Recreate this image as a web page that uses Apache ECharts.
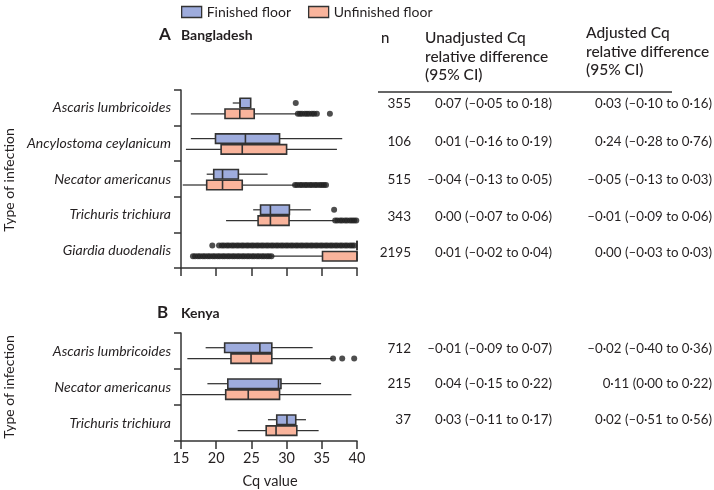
<!DOCTYPE html>
<html>
<head>
<meta charset="utf-8">
<script src="https://cdn.jsdelivr.net/npm/echarts@6/dist/echarts.min.js"></script>
<style>html,body{margin:0;padding:0;background:#fff}#c{width:714px;height:490px}</style>
</head>
<body>
<div id="c"></div>
<script>
// ---------- data ----------
const bdCategories = ['Ascaris lumbricoides', 'Ancylostoma ceylanicum', 'Necator americanus', 'Trichuris trichiura', 'Giardia duodenalis'];
const keCategories = ['Ascaris lumbricoides', 'Necator americanus', 'Trichuris trichiura'];
// [min, q1, median, q3, max]
const bdFinished = [
  [22.35, 23.4, 23.4, 24.9, 24.9],
  [16.4, 19.9, 24.15, 29.0, 37.9],
  [18.65, 19.65, 20.9, 23.15, 27.3],
  [25.25, 26.3, 27.7, 30.4, 33.45],
  [40.0, 40.0, 40.0, 40.0, 40.0]
];
const bdUnfinished = [
  [16.4, 21.25, 23.35, 25.4, 31.45],
  [15.7, 20.7, 23.7, 30.0, 37.15],
  [15.25, 18.65, 20.9, 23.7, 31.1],
  [21.4, 25.95, 27.7, 30.35, 36.75],
  [27.9, 35.1, 40.0, 40.0, 40.0]
];
const keFinished = [
  [18.5, 21.2, 26.2, 27.9, 33.7],
  [18.75, 21.65, 28.85, 29.2, 34.9],
  [27.35, 28.6, 30.05, 31.3, 32.75]
];
const keUnfinished = [
  [15.9, 22.1, 24.95, 27.9, 36.5],
  [15.1, 21.35, 24.55, 29.0, 39.2],
  [23.05, 27.1, 28.5, 31.45, 34.55]
];
// outliers: [category index, Cq value]
const bdFinishedOutliers = [
  [0, 31.3], [3, 36.75],
  [4, 19.45], [4, 20.4], [4, 20.8], [4, 21.1], [4, 21.5], [4, 21.8], [4, 22.2], [4, 22.5], [4, 22.9], [4, 23.2],
  [4, 23.6], [4, 23.9], [4, 24.3], [4, 24.6], [4, 25.0], [4, 25.3], [4, 25.7], [4, 26.0], [4, 26.4], [4, 26.7],
  [4, 27.1], [4, 27.4], [4, 27.8], [4, 28.1], [4, 28.5], [4, 28.8], [4, 29.2], [4, 29.5], [4, 29.9], [4, 30.2],
  [4, 30.6], [4, 30.9], [4, 31.3], [4, 31.6], [4, 32.0], [4, 32.3], [4, 32.7], [4, 33.0], [4, 33.4], [4, 33.7],
  [4, 34.1], [4, 34.4], [4, 34.8], [4, 35.1], [4, 35.5], [4, 35.8], [4, 36.2], [4, 36.5], [4, 36.9], [4, 37.2],
  [4, 37.6], [4, 37.9], [4, 38.3], [4, 38.6], [4, 39.0], [4, 39.3], [4, 39.6]
];
const bdUnfinishedOutliers = [
  [0, 31.6], [0, 31.9], [0, 32.2], [0, 32.6], [0, 32.9], [0, 33.2], [0, 33.6], [0, 33.9], [0, 34.3], [0, 36.15],
  [2, 31.2], [2, 31.5], [2, 31.9], [2, 32.2], [2, 32.6], [2, 32.9], [2, 33.3], [2, 33.6], [2, 34.0], [2, 34.3],
  [2, 34.7], [2, 35.0], [2, 35.3], [2, 35.6],
  [3, 36.9], [3, 37.2], [3, 37.6], [3, 37.9], [3, 38.3], [3, 38.6], [3, 39.0], [3, 39.3], [3, 39.6], [3, 39.9],
  [4, 16.7], [4, 17.0], [4, 17.4], [4, 17.7], [4, 18.1], [4, 18.4], [4, 18.8], [4, 19.1], [4, 19.5], [4, 19.8],
  [4, 20.2], [4, 20.5], [4, 20.9], [4, 21.2], [4, 21.6], [4, 21.9], [4, 22.3], [4, 22.6], [4, 23.0], [4, 23.3],
  [4, 23.7], [4, 24.0], [4, 24.4], [4, 24.7], [4, 25.1], [4, 25.4], [4, 25.8], [4, 26.1], [4, 26.5], [4, 26.8],
  [4, 27.2], [4, 27.5], [4, 27.85]
];
const keFinishedOutliers = [];
const keUnfinishedOutliers = [[0, 36.6], [0, 37.9], [0, 39.6]];
const xTicks = [15, 20, 25, 30, 35, 40];
// table
const tableHeaderN = 'n';
const tableHeaderUnadj = ['Unadjusted Cq', 'relative difference', '(95% CI)'];
const tableHeaderAdj = ['Adjusted Cq', 'relative difference', '(95% CI)'];
const bdN = ['355', '106', '515', '343', '2195'];
const bdUnadj = ['0·07 (–0·05 to 0·18)', '0·01 (–0·16 to 0·19)', '–0·04 (–0·13 to 0·05)', '0·00 (–0·07 to 0·06)', '0·01 (–0·02 to 0·04)'];
const bdAdj = ['0·03 (–0·10 to 0·16)', '0·24 (–0·28 to 0·76)', '–0·05 (–0·13 to 0·03)', '–0·01 (–0·09 to 0·06)', '0·00 (–0·03 to 0·03)'];
const keN = ['712', '215', '37'];
const keUnadj = ['–0·01 (–0·09 to 0·07)', '0·04 (–0·15 to 0·22)', '0·03 (–0·11 to 0·17)'];
const keAdj = ['–0·02 (–0·40 to 0·36)', '0·11 (0·00 to 0·22)', '0·02 (–0·51 to 0·56)'];

// ---------- style ----------
const BLUE = '#9eacdd';
const ORANGE = '#f9b49c';
const INK = '#231f20';
const FONT = 'Lato';
const BOX_H = 9.5;

function withIndex(stats) { return stats.map((s, i) => [i].concat(s)); }

function boxRenderer(offset, color) {
  return function (params, api) {
    const cat = api.value(0);
    const p = v => api.coord([api.value(v), cat]);
    const yc = p(1)[1] + offset;
    const xMin = p(1)[0], xQ1 = p(2)[0], xMed = p(3)[0], xQ3 = p(4)[0], xMax = p(5)[0];
    const ln = { stroke: '#333', lineWidth: 1.25 };
    return {
      type: 'group',
      children: [
        { type: 'line', shape: { x1: xMin, y1: yc, x2: xQ1, y2: yc }, style: ln },
        { type: 'line', shape: { x1: xQ3, y1: yc, x2: xMax, y2: yc }, style: ln },
        { type: 'rect', shape: { x: xQ1, y: yc - BOX_H / 2, width: xQ3 - xQ1, height: BOX_H },
          style: { fill: color, stroke: '#333', lineWidth: 1.6 } },
        { type: 'line', shape: { x1: xMed, y1: yc - BOX_H / 2, x2: xMed, y2: yc + BOX_H / 2 },
          style: { stroke: '#333', lineWidth: 1.6 } }
      ]
    };
  };
}

function boxSeries(name, grid, stats, offset, color) {
  return {
    type: 'custom', name: name, xAxisIndex: grid, yAxisIndex: grid,
    itemStyle: { color: color },
    renderItem: boxRenderer(offset, color),
    encode: { x: [1, 2, 3, 4, 5], y: 0 },
    data: withIndex(stats), z: 2, silent: true
  };
}
function outlierSeries(name, grid, pts, offset) {
  return {
    type: 'scatter', name: name, xAxisIndex: grid, yAxisIndex: grid,
    symbol: 'circle', symbolSize: 6, symbolOffset: [0, offset],
    itemStyle: { color: '#222' },
    data: pts.map(p => [p[1], p[0]]), z: 3, silent: true
  };
}

function xAxis(grid, showLabels) {
  return {
    type: 'value', gridIndex: grid, min: 15, max: 40, interval: 5,
    axisLine: { show: true, lineStyle: { color: '#333', width: 1.5 } },
    axisTick: { show: true, length: 8, lineStyle: { color: '#333', width: 1.5 } },
    splitLine: { show: false },
    axisLabel: { show: showLabels, fontSize: 14.5, color: INK, fontFamily: FONT, margin: 10,
      formatter: v => xTicks.indexOf(v) >= 0 ? String(v) : '' }
  };
}
function yAxis(grid, cats) {
  return {
    type: 'category', gridIndex: grid, data: cats, inverse: true,
    axisLine: { show: true, lineStyle: { color: '#333', width: 1.5 } },
    axisTick: { show: true, length: 7, lineStyle: { color: '#333', width: 1.5 } },
    axisLabel: { fontSize: 14, fontStyle: 'italic', color: INK, fontFamily: FONT, margin: 10 }
  };
}

const graphics = [];
function txt(x, y, text, font, align, extra) {
  graphics.push(Object.assign({ type: 'text', x: x, y: y, silent: true,
    style: { text: text, font: font, fill: INK, textAlign: align || 'left', textVerticalAlign: 'middle' } }, extra || {}));
}
txt(159, 35, 'A', 'bold 17px ' + FONT);
txt(181, 35, 'Bangladesh', 'bold 14px ' + FONT);
txt(157, 313, 'B', 'bold 17px ' + FONT);
txt(181, 313, 'Kenya', 'bold 14px ' + FONT);
txt(9, 180, 'Type of infection', '14px ' + FONT, 'center', { rotation: Math.PI / 2 });
txt(9, 387, 'Type of infection', '14px ' + FONT, 'center', { rotation: Math.PI / 2 });
txt(270, 481, 'Cq value', '14.5px ' + FONT, 'center');
txt(381, 38, tableHeaderN, '500 15px ' + FONT);
tableHeaderUnadj.forEach((t, i) => txt(425, 38 + i * 18.5, t, '500 15.5px ' + FONT));
tableHeaderAdj.forEach((t, i) => txt(586, 33 + i * 18.5, t, '500 15.5px ' + FONT));
graphics.push({ type: 'line', silent: true, shape: { x1: 378, y1: 92, x2: 672, y2: 92 }, style: { stroke: '#333', lineWidth: 1.3 } });
const bdRowY = [104, 142, 180, 217, 253];
const keRowY = [349, 384, 420];
bdN.forEach((t, i) => {
  txt(411, bdRowY[i], t, '13.5px ' + FONT, 'right');
  txt(552, bdRowY[i], bdUnadj[i], '13.3px ' + FONT, 'right');
  txt(712, bdRowY[i], bdAdj[i], '13.3px ' + FONT, 'right');
});
keN.forEach((t, i) => {
  txt(411, keRowY[i], t, '13.5px ' + FONT, 'right');
  txt(552, keRowY[i], keUnadj[i], '13.3px ' + FONT, 'right');
  txt(712, keRowY[i], keAdj[i], '13.3px ' + FONT, 'right');
});

const OFF_A = [-4.8, 6.0];
const OFF_B = [-3.3, 7.6];

const chart = echarts.init(document.getElementById('c'), null, { renderer: 'canvas' });
chart.setOption({
  animation: false,
  backgroundColor: '#fff',
  textStyle: { fontFamily: FONT },
  legend: {
    left: 181, top: 5, padding: 0, itemWidth: 20, itemHeight: 11, itemGap: 17,
    textStyle: { fontSize: 14, color: INK, fontFamily: FONT },
    selectedMode: false,
    data: [
      { name: 'Finished floor', icon: 'rect', itemStyle: { color: BLUE, borderColor: '#333', borderWidth: 1.3 } },
      { name: 'Unfinished floor', icon: 'rect', itemStyle: { color: ORANGE, borderColor: '#333', borderWidth: 1.3 } }
    ]
  },
  grid: [
    { left: 181, top: 90, width: 176, height: 178 },
    { left: 181, top: 333, width: 176, height: 108 }
  ],
  xAxis: [xAxis(0, false), xAxis(1, true)],
  yAxis: [yAxis(0, bdCategories), yAxis(1, keCategories)],
  series: [
    boxSeries('Finished floor', 0, bdFinished, OFF_A[0], BLUE),
    boxSeries('Unfinished floor', 0, bdUnfinished, OFF_A[1], ORANGE),
    outlierSeries('Finished floor', 0, bdFinishedOutliers, OFF_A[0]),
    outlierSeries('Unfinished floor', 0, bdUnfinishedOutliers, OFF_A[1]),
    boxSeries('Finished floor', 1, keFinished, OFF_B[0], BLUE),
    boxSeries('Unfinished floor', 1, keUnfinished, OFF_B[1], ORANGE),
    outlierSeries('Finished floor', 1, keFinishedOutliers, OFF_B[0]),
    outlierSeries('Unfinished floor', 1, keUnfinishedOutliers, OFF_B[1])
  ],
  graphic: graphics
});
</script>
</body>
</html>
